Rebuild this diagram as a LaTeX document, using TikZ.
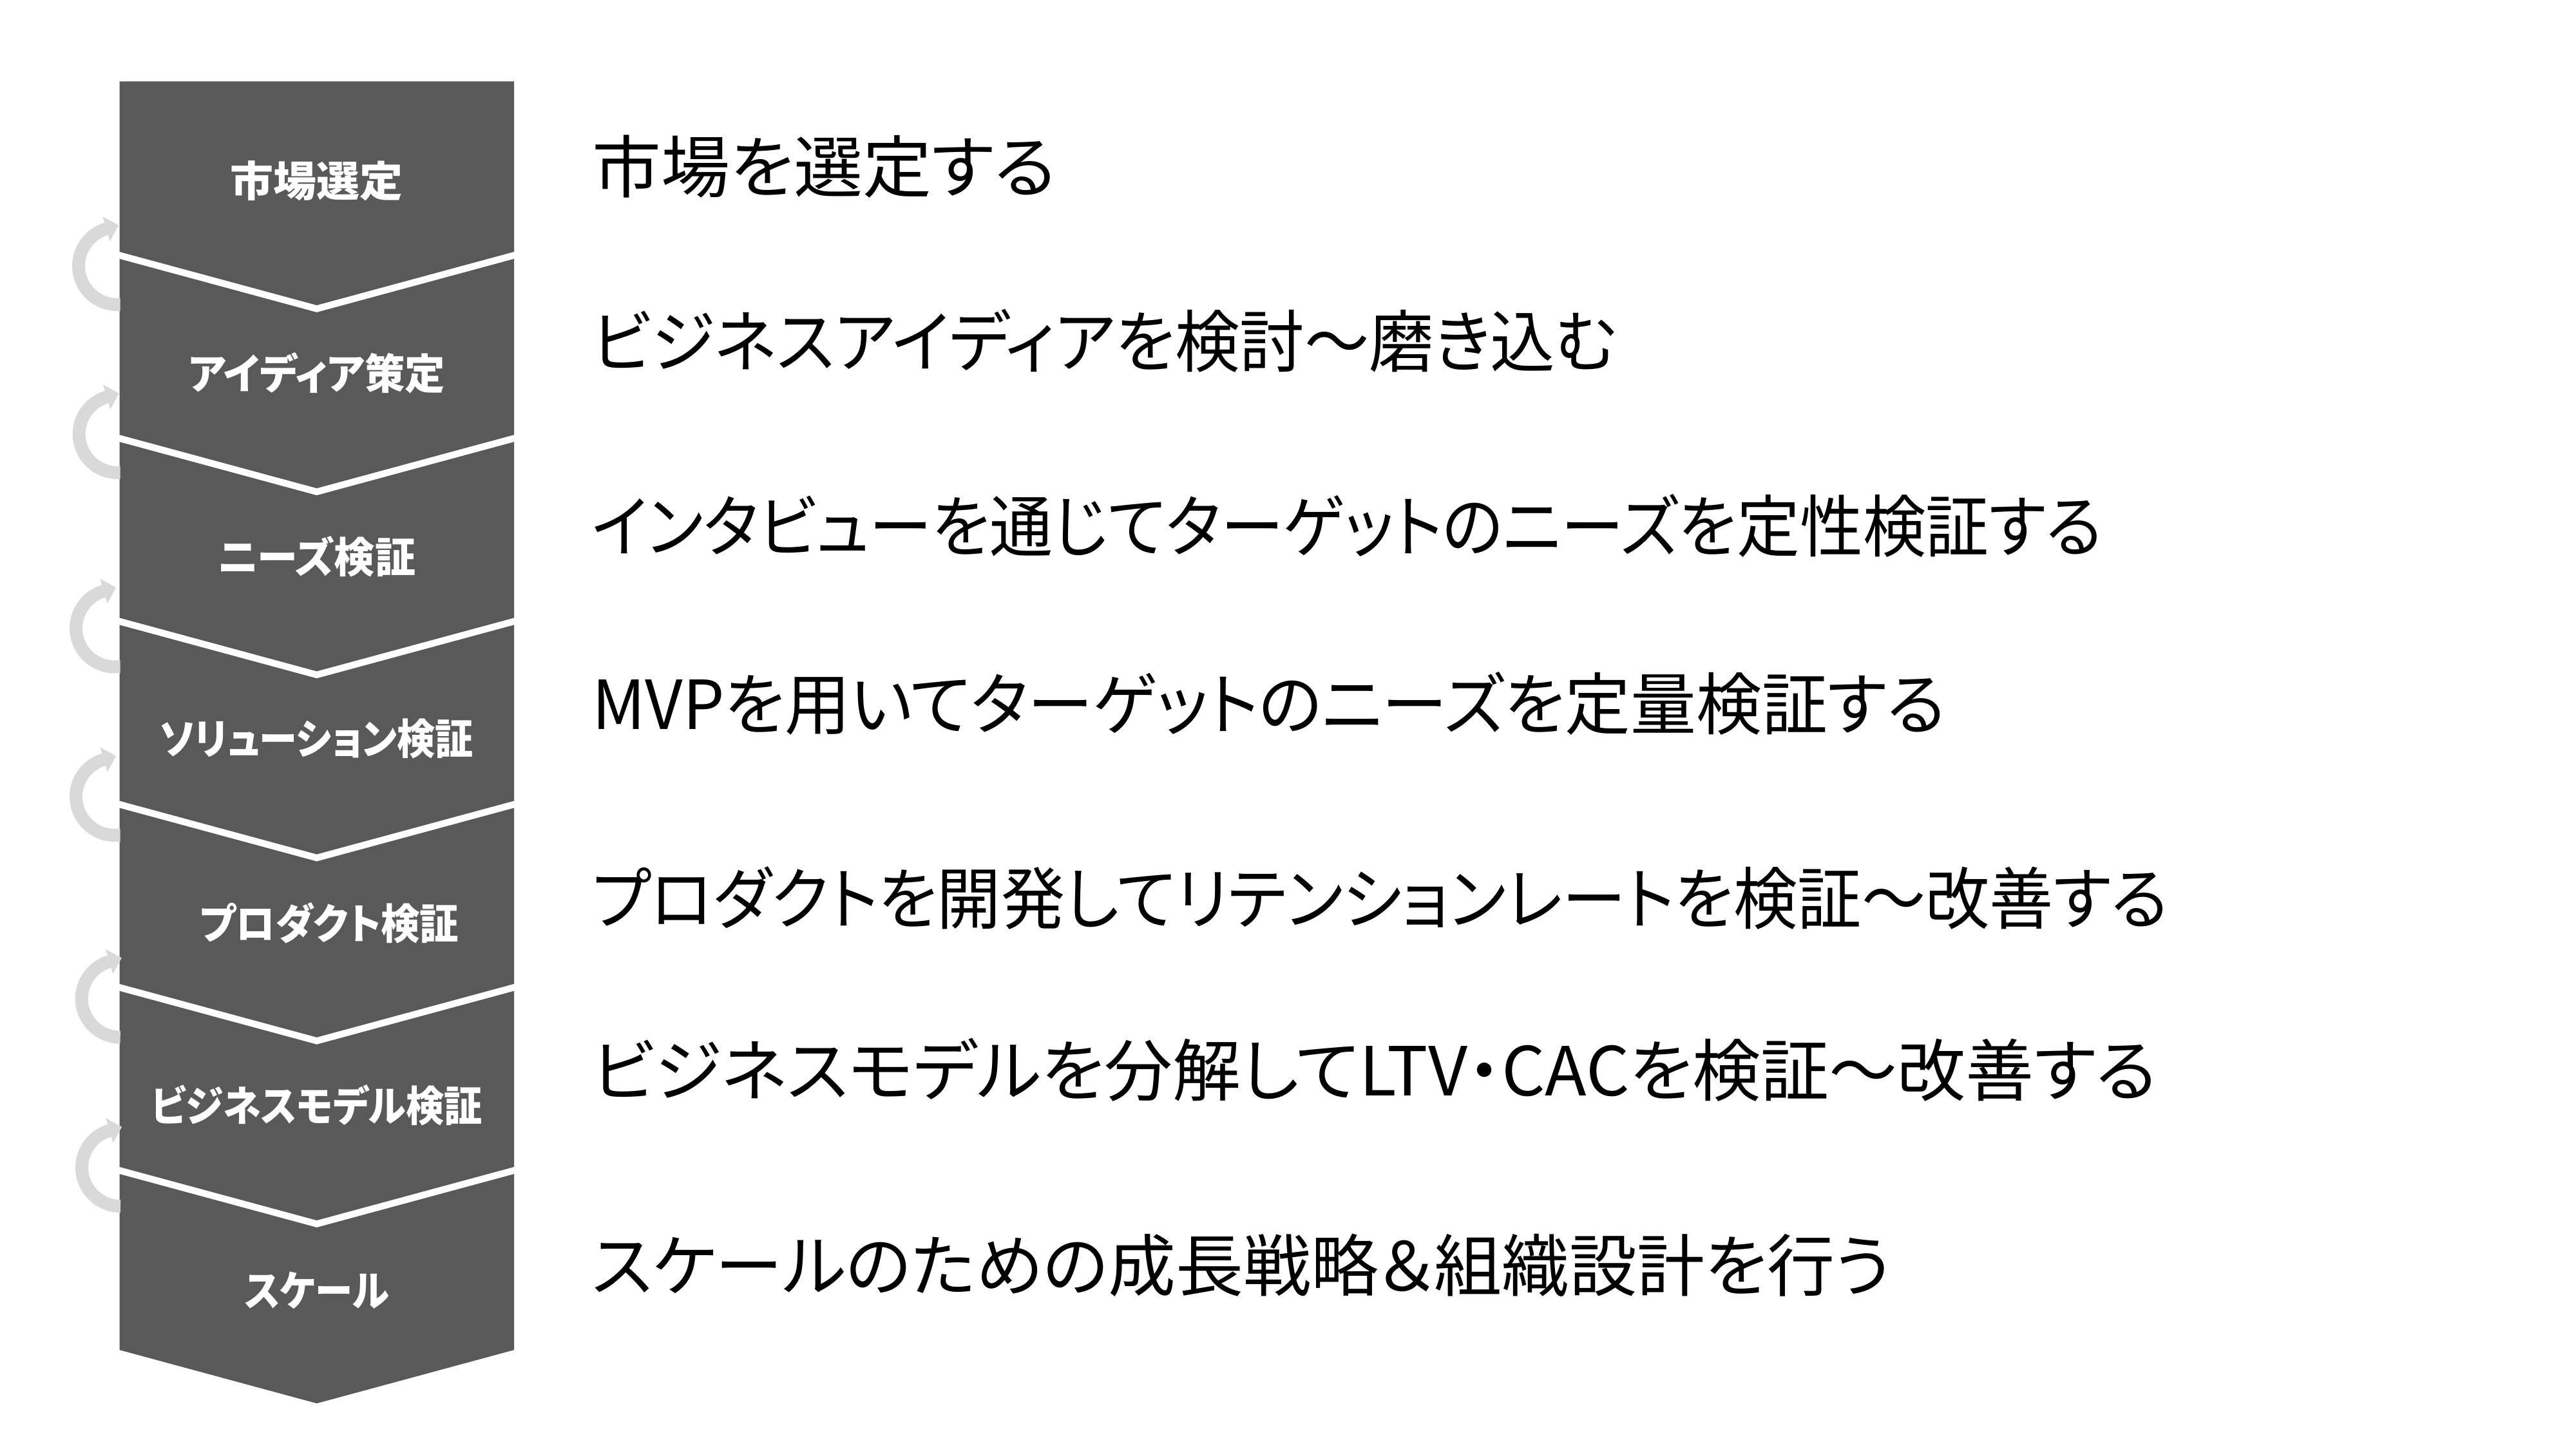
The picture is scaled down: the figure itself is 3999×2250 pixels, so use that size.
\documentclass[tikz,border=0pt]{standalone}
\usepackage{fontspec}
\setmainfont{Noto Sans CJK JP}[RawFeature=+palt]
\definecolor{chevgray}{HTML}{595959}
\definecolor{loopgray}{HTML}{D9D9D9}
\newcommand{\hsq}[2]{\scalebox{#1}[1]{#2}}
\begin{document}
\begin{tikzpicture}[x=0.2pt,y=0.2pt,
  chevfill/.style={fill=chevgray},
  lbl/.style={text=white,font=\fontsize{13}{15}\selectfont\bfseries,inner sep=0pt},
  desc/.style={anchor=west,inner sep=0pt,text=black,font=\fontsize{21}{25}\selectfont},
  loopline/.style={draw=loopgray,line width=4pt}]
\useasboundingbox (0,0) rectangle (3999,2250);
\def\L{185.5}\def\R{798}\def\C{491.75}\def\D{83}
% chevrons
\fill[chevfill] (\L,2123.7) -- (\R,2123.7) -- (\R,1859) -- (\C,1859-\D) -- (\L,1859) -- cycle;
\foreach \i in {1,...,6}{
  \pgfmathsetmacro\yt{1848-284.2*(\i-1)}
  \pgfmathsetmacro\yb{1859-284.2*\i}
  \fill[chevfill] (\L,\yt) -- (\C,\yt-\D) -- (\R,\yt) -- (\R,\yb) -- (\C,\yb-\D) -- (\L,\yb) -- cycle;
}
% loop arrows
\foreach \cx/\cy in {182/413, 182.7/674, 178/975.5, 178/1237, 186.7/1550.7, 187/1813}{
  \pgfmathsetmacro\ex{max(186.5-\cx,0)}
  \begin{scope}[shift={(\cx,2250-\cy)}]
    \draw[loopline] (\ex,-60) -- (0,-60) arc[start angle=270,end angle=106.5,radius=60];
    \fill[loopgray] (-22.72,76.71) -- (2.14,63.21) -- (-11.36,38.35) -- cycle;
  \end{scope}
}
% stage labels
\node[lbl] (s1) at (\C,1969.5) {\hsq{1.03}{市場選定}};
\node[lbl] (s2) at (\C,1671) {\hsq{0.96}{アイディア策定}};
\node[lbl] (s3) at (\C,1385.5) {\hsq{0.97}{ニーズ検証}};
\node[lbl] (s4) at (\C,1102.5) {\hsq{0.91}{ソリューション検証}};
\node[lbl] (s5) at (511,817) {\hsq{0.93}{プロダクト検証}};
\node[lbl] (s6) at (\C,534) {\hsq{0.91}{ビジネスモデル検証}};
\node[lbl] (s7) at (\C,246) {\hsq{0.9}{スケール}};
% descriptions
\node[desc] (d1) at (918,1991) {\hsq{1.02}{市場を選定する}};
\node[desc] (d2) at (918,1721) {\hsq{0.957}{ビジネスアイディアを検討～磨き込む}};
\node[desc] (d3) at (918,1434) {\hsq{0.932}{インタビューを通じてターゲットのニーズを定性検証する}};
\node[desc] (d4) at (918,1158) {\hsq{0.97}{MVPを用いてターゲットのニーズを定量検証する}};
\node[desc] (d5) at (918,855) {\hsq{0.945}{プロダクトを開発してリテンションレートを検証～改善する}};
\node[desc] (d6) at (918,589) {\hsq{1.01}{ビジネスモデルを分解してLTV・CACを検証～改善する}};
\node[desc] (d7) at (918,285) {\hsq{1.0}{スケールのための成長戦略＆組織設計を行う}};
\end{tikzpicture}
\end{document}
